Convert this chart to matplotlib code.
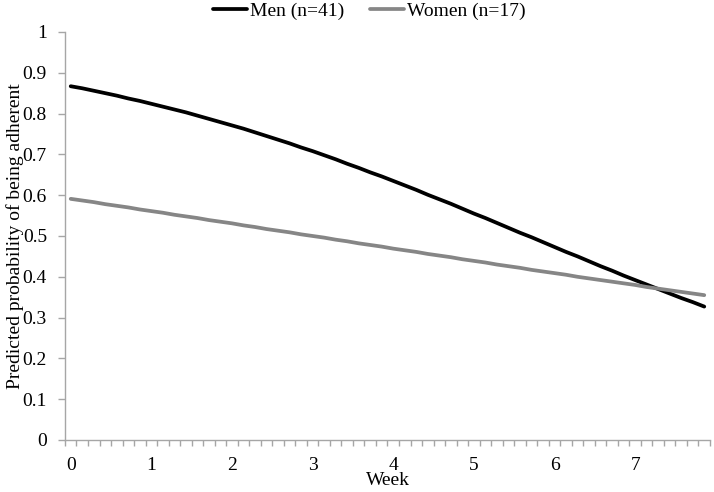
import matplotlib
matplotlib.use("Agg")
import matplotlib.pyplot as plt
from matplotlib.ticker import FuncFormatter

# ===============================
# DADOS (um valor por dia)
# ===============================
days = list(range(56))
week_labels = ["0", "1", "2", "3", "4", "5", "6", "7"]

men = [0.867, 0.862, 0.856, 0.850, 0.844, 0.837, 0.831, 0.824, 0.817, 0.810,
       0.803, 0.795, 0.787, 0.779, 0.771, 0.763, 0.754, 0.745, 0.736, 0.727,
       0.717, 0.708, 0.698, 0.688, 0.677, 0.667, 0.656, 0.646, 0.635, 0.624,
       0.613, 0.601, 0.590, 0.579, 0.567, 0.555, 0.544, 0.532, 0.520, 0.508,
       0.497, 0.485, 0.473, 0.461, 0.450, 0.438, 0.426, 0.415, 0.403, 0.392,
       0.381, 0.370, 0.359, 0.348, 0.338, 0.327]

women = [0.591, 0.587, 0.583, 0.578, 0.574, 0.570, 0.565, 0.561, 0.557, 0.552,
         0.548, 0.544, 0.539, 0.535, 0.531, 0.526, 0.522, 0.517, 0.513, 0.509,
         0.504, 0.500, 0.496, 0.491, 0.487, 0.482, 0.478, 0.474, 0.469, 0.465,
         0.461, 0.456, 0.452, 0.448, 0.443, 0.439, 0.435, 0.430, 0.426, 0.422,
         0.417, 0.413, 0.409, 0.405, 0.400, 0.396, 0.392, 0.388, 0.384, 0.380,
         0.375, 0.371, 0.367, 0.363, 0.359, 0.355]

# ===============================
# CONFIGURAÇÕES GERAIS
# ===============================
plt.rcParams['font.family'] = ['Liberation Serif', 'DejaVu Serif']
plt.rcParams['font.size'] = 14

axis_gray = '#a6a6a6'

fig = plt.figure(figsize=(7.14, 4.92), dpi=100)
ax = fig.add_axes([0.091, 0.1057, 0.9034, 0.8293])

ax.plot(days, men, color='black', lw=2.7, solid_capstyle='round', label='Men (n=41)')
ax.plot(days, women, color='#868686', lw=2.7, solid_capstyle='round', label='Women (n=17)')

# eixo x: uma marca por dia (entre categorias), rótulo a cada semana
ax.set_xlim(-0.5, len(days) - 0.5)
ax.set_xticks([d - 0.5 for d in days] + [len(days) - 0.5])
ax.set_xticklabels([])
ax.set_xticks(days[::7], minor=True)
ax.set_xticklabels(week_labels, minor=True)
ax.tick_params(axis='x', which='major', length=4, width=1, color=axis_gray, direction='out')
ax.tick_params(axis='x', which='minor', length=0, pad=12)

ax.set_ylim(0, 1)
ax.set_yticks([i / 10 for i in range(11)])
ax.yaxis.set_major_formatter(FuncFormatter(lambda v, p: f"{v:g}"))
ax.tick_params(axis='y', length=5, width=1, color=axis_gray, direction='out', pad=8)

for s in ['top', 'right']:
    ax.spines[s].set_visible(False)
for s in ['left', 'bottom']:
    ax.spines[s].set_color(axis_gray)
    ax.spines[s].set_linewidth(1)

ax.set_xlabel('Week', labelpad=-1)
ax.set_ylabel('Predicted probability of being adherent', labelpad=-1)

fig.legend(loc='center', bbox_to_anchor=(0.517, 1 - 11 / 492), ncol=2, frameon=False,
           handlelength=1.75, handletextpad=0.15, columnspacing=1.3,
           borderaxespad=0, borderpad=0)

fig.savefig('out.png', dpi=100)
plt.close(fig)
